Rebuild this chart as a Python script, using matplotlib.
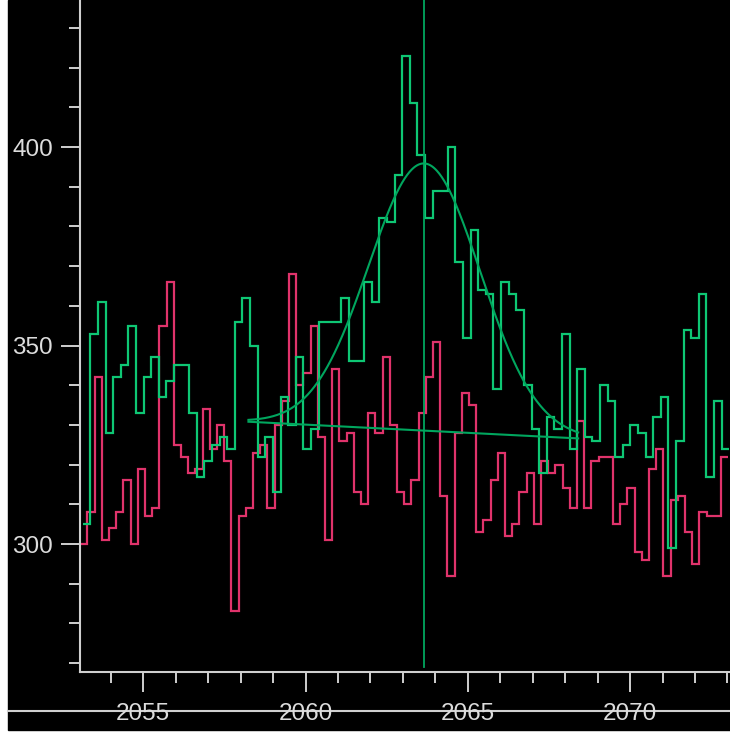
import numpy as np
import matplotlib
matplotlib.use('Agg')
import matplotlib.pyplot as plt
from matplotlib.patches import Rectangle
from matplotlib.lines import Line2D
from matplotlib.ticker import MultipleLocator

# ── Spectrum data ──────────────────────────────────────────────────────────
# channel calibration (keV): first edge + channel width
green_start, green_width = 2053.133, 0.23442
pink_start, pink_width = 2053.058, 0.22188

green_counts = [305, 353, 361, 328, 342, 345, 355, 333, 342, 347,
                337, 341, 345, 345, 333, 317, 321, 325, 327, 324,
                356, 362, 350, 322, 327, 313, 337, 330, 347, 324,
                329, 356, 356, 356, 362, 346, 346, 366, 361, 382,
                381, 393, 423, 411, 398, 382, 389, 389, 400, 371,
                352, 379, 364, 363, 339, 366, 363, 359, 340, 329,
                318, 332, 329, 353, 324, 344, 327, 326, 340, 336,
                322, 325, 330, 328, 322, 332, 337, 299, 326, 354,
                352, 363, 317, 336, 324]

pink_counts = [300, 308, 342, 301, 304, 308, 316, 300, 319, 307,
               309, 355, 366, 325, 322, 318, 319, 334, 324, 330,
               321, 283, 307, 309, 323, 325, 309, 330, 336, 368,
               340, 343, 355, 327, 301, 344, 326, 328, 313, 310,
               333, 328, 347, 330, 313, 310, 316, 333, 342, 351,
               312, 292, 328, 338, 335, 303, 306, 316, 323, 302,
               305, 313, 318, 305, 321, 318, 320, 314, 309, 331,
               309, 321, 322, 322, 305, 310, 314, 298, 296, 319,
               324, 292, 311, 312, 303, 295, 308, 307, 307, 322]

# ── Peak fit (gaussian on a linear background) ────────────────────────────
peak_centroid = 2063.66
peak_height = 67.3
peak_sigma = 1.72
fit_range = (2058.24, 2068.40)
bg_levels = (330.8, 326.6)

green_edges = green_start + green_width * np.arange(len(green_counts) + 1)
pink_edges = pink_start + pink_width * np.arange(len(pink_counts) + 1)

fx = np.linspace(fit_range[0], fit_range[1], 400)
bg = np.interp(fx, fit_range, bg_levels)
fit = bg + peak_height * np.exp(-0.5 * ((fx - peak_centroid) / peak_sigma) ** 2)

# ── Figure ─────────────────────────────────────────────────────────────────
W, H = 730, 734
fig = plt.figure(figsize=(W / 100, H / 100), dpi=100, facecolor='white')
fig.add_artist(Rectangle((8 / W, 4 / H), 722 / W, 730 / H,
                         transform=fig.transFigure, color='black', zorder=-5))

ax = fig.add_axes([80 / W, 62 / H, 650 / W, 672 / H])
ax.set_facecolor('black')

GREEN = '#0ec774'
PINK = '#e0336b'
FIT = '#00a65e'
AXC = '#cfcfcf'
TXT = '#dcdcdc'

ax.stairs(pink_counts, pink_edges, baseline=None, color=PINK, lw=1.6)
ax.stairs(green_counts, green_edges, baseline=None, color=GREEN, lw=1.6)
ax.plot(fx, fit, color=FIT, lw=1.5)
ax.plot(fit_range, bg_levels, color=FIT, lw=1.5)
ax.plot([peak_centroid, peak_centroid], [269.0, 440], color=FIT, lw=1.3)

ax.set_xlim(2053.049, 2073.08)
ax.set_ylim(267.76, 437.03)

# ── Axes styling ───────────────────────────────────────────────────────────
for side in ['top', 'right']:
    ax.spines[side].set_visible(False)
for side in ['left', 'bottom']:
    ax.spines[side].set_color(AXC)
    ax.spines[side].set_linewidth(1.5)

ax.yaxis.set_major_locator(MultipleLocator(50))
ax.yaxis.set_minor_locator(MultipleLocator(10))
ax.xaxis.set_major_locator(MultipleLocator(5))
ax.xaxis.set_minor_locator(MultipleLocator(1))

font = {'family': 'Liberation Sans', 'size': 17.5}
ax.tick_params(axis='y', which='major', length=13.7, width=1.4, color=AXC,
               pad=5.8, labelcolor=TXT)
ax.tick_params(axis='y', which='minor', length=7.9, width=1.4, color=AXC)
ax.tick_params(axis='x', which='major', length=14.4, width=1.4, color=AXC,
               pad=8.2, labelcolor=TXT)
ax.tick_params(axis='x', which='minor', length=7.9, width=1.4, color=AXC)
for lab in ax.get_xticklabels() + ax.get_yticklabels():
    lab.set_fontfamily(font['family'])
    lab.set_fontsize(font['size'])

# rule running through the energy labels
fig.add_artist(Line2D([8 / W, 1], [23 / H, 23 / H], transform=fig.transFigure,
                      color=AXC, lw=1.5, zorder=-1))

fig.savefig('out.png', dpi=100, facecolor='white')
